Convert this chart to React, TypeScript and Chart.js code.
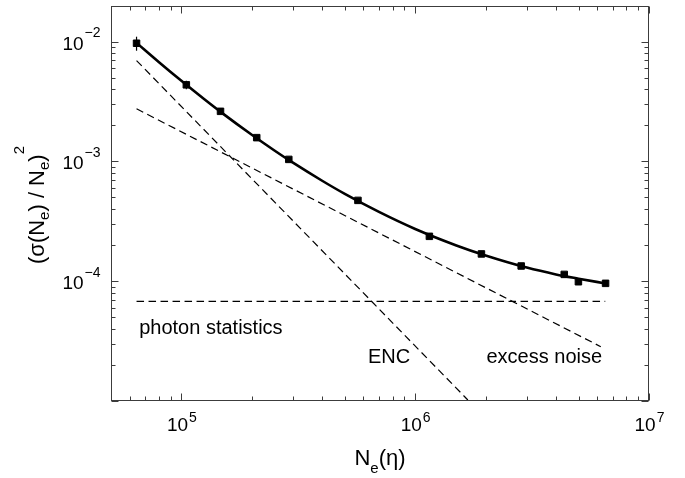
import React, { useEffect, useRef } from "react";
import { Chart, registerables } from "chart.js";

Chart.register(...registerables);

// ---- data ----
const measuredN = [6.43e4, 1.05e5, 1.47e5, 2.1e5, 2.88e5, 5.69e5, 1.15e6, 1.92e6, 2.84e6, 4.34e6, 4.99e6, 6.52e6];
const measuredVariance = [9.7e-3, 4.36e-3, 2.62e-3, 1.58e-3, 1.04e-3, 4.73e-4, 2.37e-4, 1.69e-4, 1.34e-4, 1.14e-4, 9.9e-5, 9.6e-5];

const fitN = [6.43e4, 8e4, 1e5, 1.25e5, 1.5e5, 2e5, 2.5e5, 3e5, 4e5, 5e5, 7e5, 1e6, 1.5e6, 2e6, 3e6, 4e6, 5e6, 6.52e6];
const fitVariance = [9.77e-3, 6.77e-3, 4.71e-3, 3.32e-3, 2.52e-3, 1.67e-3, 1.235e-3, 9.76e-4, 6.9e-4, 5.36e-4, 3.79e-4, 2.73e-4, 1.99e-4, 1.64e-4, 1.3e-4, 1.14e-4, 1.05e-4, 9.58e-5];

const photonN = [6.43e4, 6.5e6];
const photonVariance = [6.8e-5, 6.8e-5];
const encN = [6.43e4, 1.68e6];
const encVariance = [6.95e-3, 1.02e-5];
const excessN = [6.43e4, 6.22e6];
const excessVariance = [2.75e-3, 2.84e-5];

const errorN = [6.43e4, 1.05e5];
const errorLow = [8.4e-3, 4.0e-3];
const errorHigh = [1.1e-2, 4.72e-3];

const xTickValues = [1e5, 1e6, 1e7];
const xTickExponents = ["5", "6", "7"];
const yTickValues = [1e-2, 1e-3, 1e-4];
const yTickExponents = ["\u22122", "\u22123", "\u22124"];

const annotationTexts = ["photon statistics", "ENC", "excess noise"];
const annotationN = [6.6e4, 6.28e5, 6.3e6];
const annotationVariance = [3.62e-5, 2.06e-5, 2.06e-5];
const annotationAlign = ["left", "left", "right"];

const X_MIN = 5e4;
const X_MAX = 1e7;
const Y_MIN = 1e-5;
const Y_MAX = 2e-2;

const FONT = '"Liberation Sans", Arial, Helvetica, sans-serif';

const pts = (xs: number[], ys: number[]) => xs.map((x, i) => ({ x, y: ys[i] }));

const framePlugin = {
  id: "framePlugin",
  afterDatasetsDraw(chart: any) {
    const { ctx, chartArea: a, scales } = chart;
    const xs = scales.x;
    const ys = scales.y;
    const L = Math.round(a.left) + 0.5;
    const R = Math.round(a.right) - 0.5;
    const T = Math.round(a.top) + 0.5;
    const B = Math.round(a.bottom) - 0.5;
    ctx.save();

    // error bars
    ctx.strokeStyle = "#000";
    ctx.lineWidth = 1.2;
    errorN.forEach((n, i) => {
      const px = xs.getPixelForValue(n);
      ctx.beginPath();
      ctx.moveTo(px, ys.getPixelForValue(errorHigh[i]));
      ctx.lineTo(px, ys.getPixelForValue(errorLow[i]));
      ctx.stroke();
    });

    // frame
    ctx.strokeStyle = "#3c3c3c";
    ctx.lineWidth = 1;
    ctx.strokeRect(L, T, R - L, B - T);

    // ticks
    ctx.beginPath();
    for (let d = 4; d <= 7; d++) {
      for (let m = 1; m <= 9; m++) {
        const v = m * Math.pow(10, d);
        if (v < X_MIN * 0.999 || v > X_MAX * 1.001) continue;
        const px = Math.round(xs.getPixelForValue(v)) + 0.5;
        const len = m === 1 ? 7 : 4;
        ctx.moveTo(px, B);
        ctx.lineTo(px, B - len);
        ctx.moveTo(px, T);
        ctx.lineTo(px, T + len);
      }
    }
    for (let d = -5; d <= -2; d++) {
      for (let m = 1; m <= 9; m++) {
        const v = m * Math.pow(10, d);
        if (v < Y_MIN * 0.999 || v > Y_MAX * 1.001) continue;
        const py = Math.round(ys.getPixelForValue(v)) + 0.5;
        const len = m === 1 ? 7 : 4;
        ctx.moveTo(L, py);
        ctx.lineTo(L + len, py);
        ctx.moveTo(R, py);
        ctx.lineTo(R - len, py);
      }
    }
    ctx.stroke();

    ctx.fillStyle = "#000";
    ctx.textBaseline = "alphabetic";

    // x tick labels
    xTickValues.forEach((v, i) => {
      const px = xs.getPixelForValue(v);
      ctx.font = `19px ${FONT}`;
      const wMain = ctx.measureText("10").width;
      ctx.font = `14px ${FONT}`;
      const wExp = ctx.measureText(xTickExponents[i]).width;
      const start = px - (wMain + wExp) / 2;
      ctx.font = `19px ${FONT}`;
      ctx.textAlign = "left";
      ctx.fillText("10", start, B + 30);
      ctx.font = `14px ${FONT}`;
      ctx.fillText(xTickExponents[i], start + wMain + 1, B + 21);
    });

    // y tick labels
    yTickValues.forEach((v, i) => {
      const py = ys.getPixelForValue(v);
      ctx.font = `14px ${FONT}`;
      const wExp = ctx.measureText(yTickExponents[i]).width;
      ctx.font = `19px ${FONT}`;
      const wMain = ctx.measureText("10").width;
      const right = L - 11;
      ctx.textAlign = "left";
      ctx.fillText("10", right - wExp - 1 - wMain, py + 8);
      ctx.font = `14px ${FONT}`;
      ctx.fillText(yTickExponents[i], right - wExp, py - 4.5);
    });

    // annotations
    ctx.font = `20px ${FONT}`;
    annotationTexts.forEach((t, i) => {
      ctx.textAlign = annotationAlign[i] as CanvasTextAlign;
      ctx.fillText(t, xs.getPixelForValue(annotationN[i]), ys.getPixelForValue(annotationVariance[i]));
    });

    // x axis title: N_e(η)
    {
      const parts = [
        { t: "N", size: 22, dy: 0 },
        { t: "e", size: 15, dy: 8 },
        { t: "(\u03b7)", size: 22, dy: 0 },
      ];
      let total = 0;
      parts.forEach((p) => {
        ctx.font = `${p.size}px ${FONT}`;
        total += ctx.measureText(p.t).width;
      });
      let x = (a.left + a.right) / 2 - total / 2;
      const base = 465;
      ctx.textAlign = "left";
      parts.forEach((p) => {
        ctx.font = `${p.size}px ${FONT}`;
        ctx.fillText(p.t, x, base + p.dy);
        x += ctx.measureText(p.t).width;
      });
    }

    // y axis title: (σ(N_e) / N_e)^2
    {
      const parts = [
        { t: "(\u03c3(N", size: 22, dy: 0 },
        { t: "e", size: 15, dy: 5 },
        { t: ") / N", size: 22, dy: 0 },
        { t: "e", size: 15, dy: 5 },
        { t: ")", size: 22, dy: 0 },
        { t: "2", size: 15, dy: -20 },
      ];
      let total = 0;
      parts.forEach((p) => {
        ctx.font = `${p.size}px ${FONT}`;
        total += ctx.measureText(p.t).width;
      });
      ctx.save();
      ctx.translate(44, 205);
      ctx.rotate(-Math.PI / 2);
      let x = -total / 2;
      ctx.textAlign = "left";
      parts.forEach((p) => {
        ctx.font = `${p.size}px ${FONT}`;
        ctx.fillText(p.t, x, p.dy);
        x += ctx.measureText(p.t).width;
      });
      ctx.restore();
    }

    ctx.restore();
  },
};

export default function App() {
  const canvasRef = useRef<HTMLCanvasElement | null>(null);

  useEffect(() => {
    if (!canvasRef.current) return;
    const dashed = {
      borderColor: "#000",
      borderWidth: 1.2,
      borderDash: [7.5, 4.5],
      pointRadius: 0,
      fill: false,
      tension: 0,
    };
    const chart = new Chart(canvasRef.current, {
      type: "line",
      data: {
        datasets: [
          { ...dashed, label: "photon statistics", data: pts(photonN, photonVariance) },
          { ...dashed, label: "ENC", data: pts(encN, encVariance) },
          { ...dashed, label: "excess noise", data: pts(excessN, excessVariance) },
          {
            label: "total",
            data: pts(fitN, fitVariance),
            borderColor: "#000",
            borderWidth: 2.6,
            pointRadius: 0,
            cubicInterpolationMode: "monotone",
            fill: false,
          },
          {
            label: "measured",
            data: pts(measuredN, measuredVariance),
            showLine: false,
            pointStyle: "rect",
            pointRadius: 4.6,
            pointBackgroundColor: "#000",
            pointBorderColor: "#000",
            pointBorderWidth: 1,
          },
        ],
      },
      options: {
        animation: false,
        responsive: true,
        maintainAspectRatio: false,
        parsing: true,
        layout: { padding: { left: 111, top: 5, right: 36, bottom: 77 } },
        plugins: { legend: { display: false }, tooltip: { enabled: false } },
        scales: {
          x: { type: "logarithmic", min: X_MIN, max: X_MAX, display: false },
          y: { type: "logarithmic", min: Y_MIN, max: Y_MAX, display: false },
        },
      } as any,
      plugins: [framePlugin],
    });
    return () => chart.destroy();
  }, []);

  return (
    <div style={{ position: "fixed", left: 0, top: 0, width: 685, height: 478, background: "#fff" }}>
      <canvas ref={canvasRef} />
    </div>
  );
}
